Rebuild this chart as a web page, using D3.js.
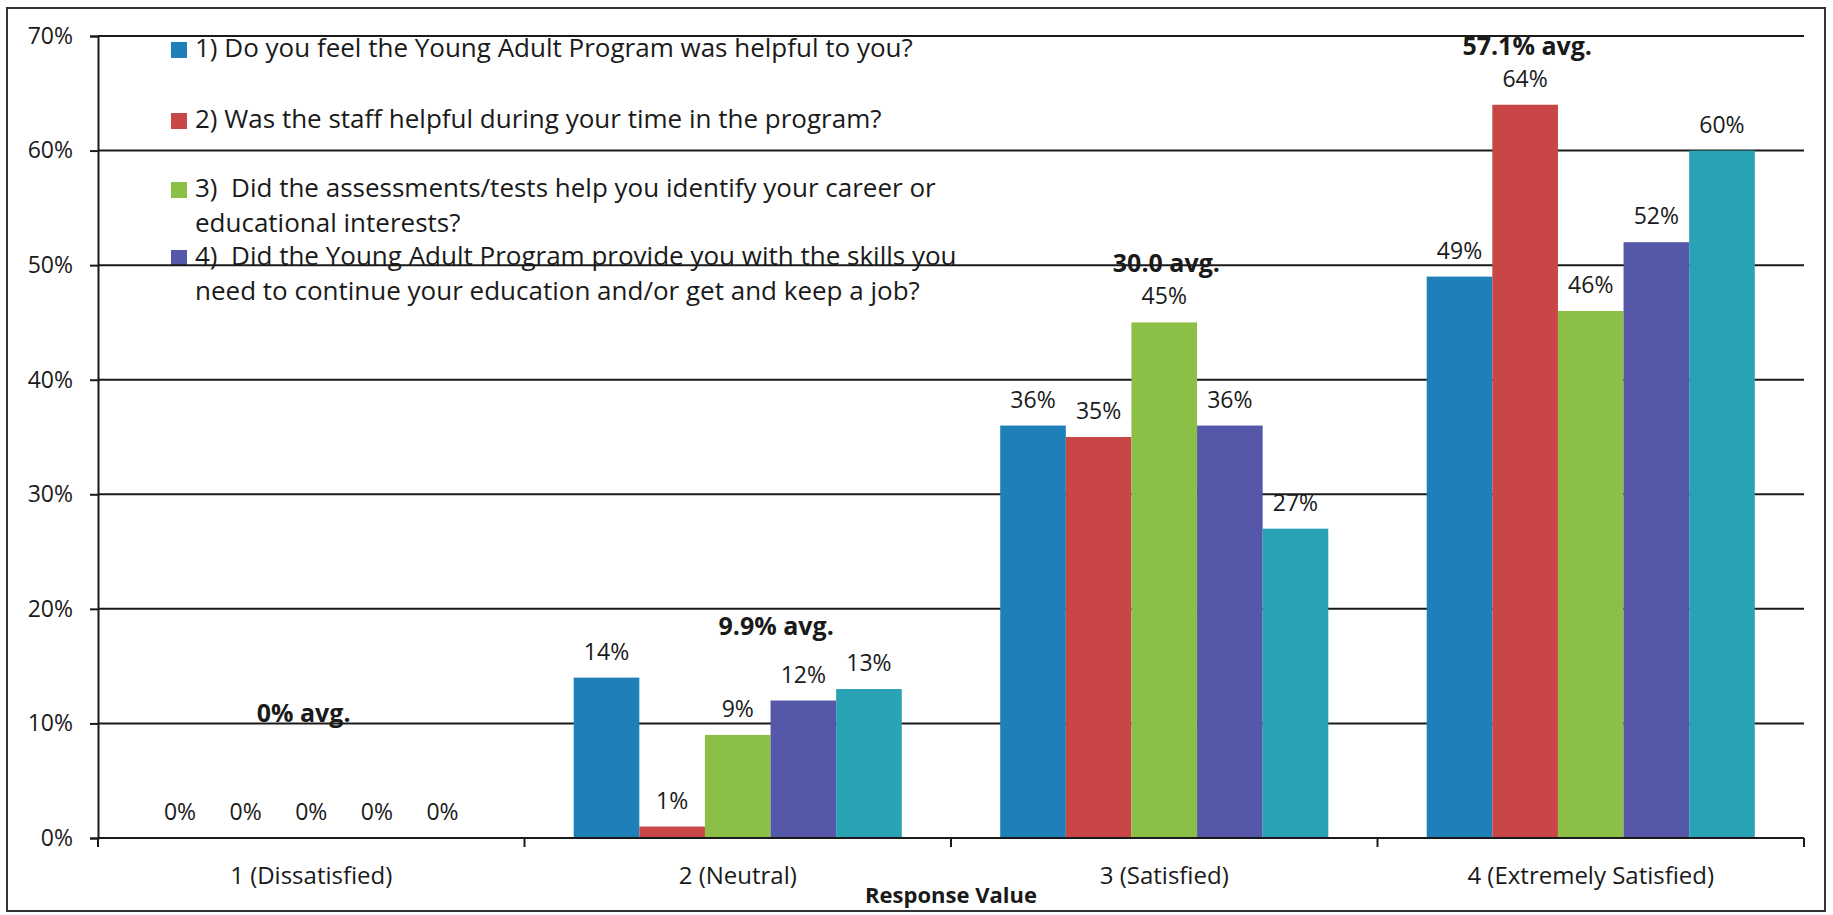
<!DOCTYPE html>
<html>
<head>
<meta charset="utf-8">
<script src="https://cdn.jsdelivr.net/npm/d3@7"></script>
<style>
  html, body { margin: 0; padding: 0; background: #fff; }
  svg { display: block; font-family: "Open Sans", "Noto Sans", sans-serif; }
  text { white-space: pre; }
</style>
</head>
<body>
<svg id="chart" width="1833" height="915"></svg>
<script>
// Response categories along the x axis
const categories = ["1 (Dissatisfied)", "2 (Neutral)", "3 (Satisfied)", "4 (Extremely Satisfied)"];

// Percent of responses per question, one value per category
const q1Values = [0, 14, 36, 49];
const q2Values = [0, 1, 35, 64];
const q3Values = [0, 9, 45, 46];
const q4Values = [0, 12, 36, 52];
const q5Values = [0, 13, 27, 60];

const seriesKeys = ["q1", "q2", "q3", "q4", "q5"];
const seriesColors = ["#1f80b9", "#c94646", "#8cbf46", "#5558a8", "#29a2b4"];

// Legend entries (the fifth series has none)
const legendLines = [
  ["1) Do you feel the Young Adult Program was helpful to you?"],
  ["2) Was the staff helpful during your time in the program?"],
  ["3)  Did the assessments/tests help you identify your career or", "educational interests?"],
  ["4)  Did the Young Adult Program provide you with the skills you", "need to continue your education and/or get and keep a job?"]
];

// Average annotations for each category
const avgLabels = ["0% avg.", "9.9% avg.", "30.0 avg.", "57.1% avg."];

// Y axis ticks (percent)
const yTicks = [0, 10, 20, 30, 40, 50, 60, 70];

const seriesValues = [q1Values, q2Values, q3Values, q4Values, q5Values];
const table = categories.map((c, i) => {
  const row = { category: c };
  seriesKeys.forEach((k, j) => { row[k] = seriesValues[j][i]; });
  return row;
});

const svg = d3.select("#chart");

// Layout
const plot = { left: 98, right: 1804, top: 36, bottom: 838 };

const x = d3.scaleBand().domain(categories).range([plot.left, plot.right]).paddingInner(0).paddingOuter(0);
const xs = d3.scaleBand().domain(seriesKeys).range([0, x.bandwidth()]).paddingInner(0).paddingOuter(0.75);
const y = d3.scaleLinear().domain([0, 70]).range([plot.bottom, plot.top]);

// Outer frame
svg.append("rect")
  .attr("x", 7).attr("y", 8).attr("width", 1818).attr("height", 903)
  .attr("fill", "none").attr("stroke", "#333").attr("stroke-width", 2);

// Average annotations (placed in data space; gridlines run over them)
const avgAnchor = [
  { y: 10.1, dx: -0.018 },
  { y: 17.7, dx: 0.09 },
  { y: 49.4, dx: 0.005 },
  { y: 68.3, dx: -0.149 }
];
svg.append("g").selectAll("text")
  .data(avgLabels)
  .join("text")
  .attr("x", (d, i) => x(categories[i]) + x.bandwidth() * (0.5 + avgAnchor[i].dx))
  .attr("y", (d, i) => y(avgAnchor[i].y))
  .attr("text-anchor", "middle")
  .attr("font-size", 25)
  .attr("font-weight", 700)
  .attr("fill", "#1a1a1a")
  .text(d => d);

// Legend
const legend = svg.append("g");
const legendRows = [57, 128, 197, 265];
legendLines.forEach((lines, i) => {
  legend.append("rect")
    .attr("x", 171).attr("y", legendRows[i] - 15)
    .attr("width", 16).attr("height", 16)
    .attr("fill", seriesColors[i]);
  lines.forEach((line, j) => {
    legend.append("text")
      .attr("x", 195)
      .attr("y", legendRows[i] + j * 35)
      .attr("font-size", 26)
      .attr("fill", "#1a1a1a")
      .text(line);
  });
});

// Horizontal gridlines
svg.append("g").selectAll("line")
  .data(yTicks)
  .join("line")
  .attr("x1", plot.left).attr("x2", plot.right)
  .attr("y1", d => y(d)).attr("y2", d => y(d))
  .attr("stroke", "#1a1a1a").attr("stroke-width", 2);

// Y axis
const yAxis = svg.append("g")
  .attr("transform", `translate(${plot.left},0)`)
  .call(d3.axisLeft(y).tickValues(yTicks).tickFormat(d => d + "%").tickSize(8).tickPadding(17))
  .attr("font-size", 23)
  .attr("font-family", "'Open Sans', 'Noto Sans', sans-serif");
yAxis.select(".domain").attr("stroke", "#1a1a1a").attr("stroke-width", 2);
yAxis.selectAll(".tick line").attr("stroke", "#1a1a1a").attr("stroke-width", 2);
yAxis.selectAll(".tick text")
  .style("font-size", "23px")
  .attr("fill", "#1a1a1a");

// Bars
const groups = svg.append("g").selectAll("g")
  .data(table)
  .join("g")
  .attr("transform", d => `translate(${x(d.category)},0)`);

groups.selectAll("rect")
  .data(d => seriesKeys.map((k, j) => ({ key: k, value: d[k], color: seriesColors[j] })))
  .join("rect")
  .attr("x", d => xs(d.key))
  .attr("width", xs.bandwidth())
  .attr("y", d => y(d.value))
  .attr("height", d => y(0) - y(d.value))
  .attr("fill", d => d.color);

// Value labels
groups.selectAll("text")
  .data(d => seriesKeys.map(k => ({ key: k, value: d[k] })))
  .join("text")
  .attr("x", d => xs(d.key) + xs.bandwidth() / 2)
  .attr("y", d => y(d.value) - 18)
  .attr("text-anchor", "middle")
  .attr("font-size", 23)
  .attr("fill", "#1a1a1a")
  .text(d => d.value + "%");

// X axis with ticks at category boundaries
const xAxis = svg.append("g").attr("transform", `translate(0,${plot.bottom})`);
xAxis.append("line")
  .attr("x1", plot.left).attr("x2", plot.right)
  .attr("stroke", "#1a1a1a").attr("stroke-width", 2);
const bounds = categories.map(c => x(c)).concat([x(categories[categories.length - 1]) + x.bandwidth()]);
xAxis.selectAll("line.tick")
  .data(bounds)
  .join("line")
  .attr("class", "tick")
  .attr("x1", d => d).attr("x2", d => d)
  .attr("y1", 0).attr("y2", 9)
  .attr("stroke", "#1a1a1a").attr("stroke-width", 2);
xAxis.selectAll("text")
  .data(categories)
  .join("text")
  .attr("x", d => x(d) + x.bandwidth() / 2)
  .attr("y", 46)
  .attr("text-anchor", "middle")
  .attr("font-size", 24)
  .attr("fill", "#1a1a1a")
  .text(d => d);

// X axis title
svg.append("text")
  .attr("x", (plot.left + plot.right) / 2)
  .attr("y", 903)
  .attr("text-anchor", "middle")
  .attr("font-size", 22)
  .attr("font-weight", 700)
  .attr("fill", "#1a1a1a")
  .text("Response Value");
</script>
</body>
</html>
